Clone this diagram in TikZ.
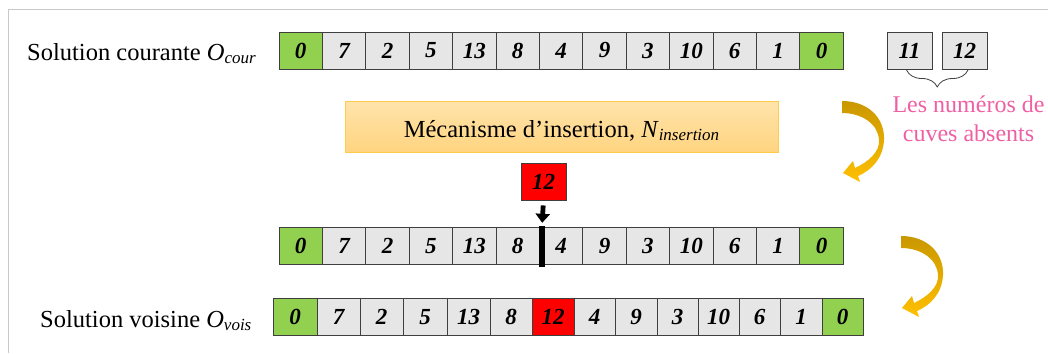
\documentclass[tikz,border=0pt]{standalone}
\usepackage{fontspec}
\setmainfont{Liberation Serif}
\usetikzlibrary{arrows.meta,decorations.pathreplacing}
\definecolor{cellgray}{HTML}{E7E6E6}
\definecolor{cellborder}{HTML}{3F3F3F}
\definecolor{cellgreen}{HTML}{92D050}
\definecolor{cellred}{HTML}{FF0000}
\definecolor{pinktext}{HTML}{EF5FA3}
\definecolor{framegray}{HTML}{C8C8C8}
\definecolor{boxtop}{HTML}{FFE4AB}
\definecolor{boxbottom}{HTML}{FFD480}
\definecolor{boxborder}{HTML}{FFCB4A}
\definecolor{golddark}{HTML}{C99700}
\definecolor{goldlight}{HTML}{FFC000}
\tikzset{
  cell/.style={draw=cellborder, line width=0.9pt, fill=cellgray, minimum height=37pt,
    inner sep=0pt, font=\fontsize{23}{23}\selectfont\bfseries\itshape},
  gcell/.style={cell, fill=cellgreen},
  rcell/.style={cell, fill=cellred},
  gycell/.style={cell},
  lbl/.style={anchor=base west, inner sep=0pt, font=\fontsize{24.5}{27}\selectfont},
  curvarrow/.pic={
    \shade[top color=golddark, bottom color=goldlight]
      (0,0) .. controls (26,0) and (43,17) .. (42,39)
      .. controls (41,57) and (30,69) .. (16,75)
      -- (18,81) -- (1,72) -- (11,60) -- (13,67)
      .. controls (26,61) and (38,51) .. (37,39)
      .. controls (36,23) and (20,12) .. (0,12) -- cycle;
  }
}
\newcommand{\subsc}[1]{\raisebox{-0.32ex}{\fontsize{17}{17}\selectfont\itshape #1}}
\begin{document}
\begin{tikzpicture}[x=1pt,y=-1pt]
\useasboundingbox (0,0) rectangle (1048,353);
% partial frame
\draw[framegray, line width=1pt] (8.5,353) -- (8.5,9.5) -- (1048,9.5);

% row 1
\foreach \v/\s [count=\i from 0] in {0/gcell,7/gycell,2/gycell,5/gycell,13/gycell,8/gycell,4/gycell,9/gycell,3/gycell,10/gycell,6/gycell,1/gycell,0/gcell}{
  \node[\s, minimum width=43.4pt] (a\i) at ({279+43.4*(\i+0.5)},50.5) {\v};
}
% absent numbers
\node[cell, minimum width=45pt] (m11) at (909.5,50.5) {11};
\node[cell, minimum width=45pt] (m12) at (964.5,50.5) {12};
\draw[cellborder, line width=0.8pt, decorate, decoration={brace, amplitude=17pt, mirror}]
  (906.5,70) -- (968,70);
\node[font=\fontsize{24}{29}\selectfont, text=pinktext, align=center, anchor=north, inner sep=0pt]
  (absent) at (968.5,95.5) {Les numéros de\\cuves absents};

% mechanism box
\node[draw=boxborder, line width=0.8pt, top color=boxtop, bottom color=boxbottom,
  minimum width=433pt, minimum height=51pt] (mech) at (561.5,126.5) {};
\node[anchor=base, inner sep=0pt, font=\fontsize{24.5}{27}\selectfont] (mechtxt) at (561.5,137)
  {Mécanisme d’insertion, \textit{N}\subsc{insertion}};

% red 12
\node[rcell, minimum width=45pt] (ins) at (543.5,181.5) {12};

% row 2
\foreach \v/\s [count=\i from 0] in {0/gcell,7/gycell,2/gycell,5/gycell,13/gycell,8/gycell,4/gycell,9/gycell,3/gycell,10/gycell,6/gycell,1/gycell,0/gcell}{
  \node[\s, minimum width=43.4pt] (b\i) at ({279+43.4*(\i+0.5)},246) {\v};
}
\node[fill=black, inner sep=0pt, minimum width=6pt, minimum height=41pt] (bar) at (542,246.5) {};
\draw[line width=4.8pt, -{Triangle[width=14pt,length=9pt]}, shorten <=5pt, shorten >=3pt]
  (ins.south) -- (bar.north);

% row 3
\foreach \a/\b/\v/\s [count=\i from 0] in {273/317/0/gcell,317/360/7/gycell,360/403/2/gycell,403/447/5/gycell,447/490/13/gycell,490/532/8/gycell,532/574/12/rcell,574/615/4/gycell,615/657/9/gycell,657/698/3/gycell,698/739/10/gycell,739/780/6/gycell,780/822/1/gycell,822/863/0/gcell}{
  \node[\s, minimum width={\b pt-\a pt}] (c\i) at ({(\a+\b)/2},317) {\v};
}

% labels
\node[lbl] (lcour) at (27,60) {Solution courante \textit{O}\subsc{cour}};
\node[lbl] (lvois) at (40,327) {Solution voisine \textit{O}\subsc{vois}};

% curved arrows
\pic at (842,101) {curvarrow};
\pic at (901,236) {curvarrow};
\end{tikzpicture}
\end{document}
